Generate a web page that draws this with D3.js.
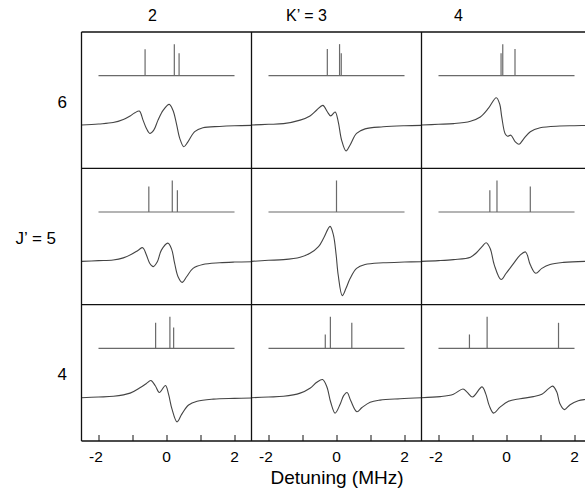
<!DOCTYPE html>
<html>
<head>
<meta charset="utf-8">
<script src="https://cdn.jsdelivr.net/npm/d3@7"></script>
<style>
  html, body { margin: 0; padding: 0; background: #fff; }
  svg { display: block; }
  text { font-family: "Liberation Sans", Arial, Helvetica, sans-serif; fill: #000; }
</style>
</head>
<body>
<svg id="chart" width="585" height="495"></svg>
<script>
// ---- data ----
const colLabels = ["2", "K’ = 3", "4"];          // K'
const rowLabels = ["6", "J’ = 5", "4"];          // J'
const xTicks = [-2, -1, 0, 1, 2];
const xTickLabels = ["-2", "", "0", "", "2"];
const xLabel = "Detuning (MHz)";

// stick spectra: [detuning MHz, relative intensity]
const sticksJ6K2 = [[-0.63, 0.84], [0.23, 1.0], [0.37, 0.71]];
const sticksJ6K3 = [[-0.27, 0.85], [0.09, 1.0], [0.14, 0.71]];
const sticksJ6K4 = [[-0.16, 0.71], [-0.11, 1.0], [0.25, 0.85]];
const sticksJ5K2 = [[-0.52, 0.81], [0.17, 1.0], [0.32, 0.69]];
const sticksJ5K3 = [[0.0, 1.0]];
const sticksJ5K4 = [[-0.49, 0.69], [-0.28, 1.0], [0.70, 0.81]];
const sticksJ4K2 = [[-0.32, 0.81], [0.10, 1.0], [0.21, 0.66]];
const sticksJ4K3 = [[-0.33, 0.44], [-0.18, 1.0], [0.45, 0.81]];
const sticksJ4K4 = [[-1.09, 0.44], [-0.57, 1.0], [1.53, 0.81]];

// measured signal traces: [detuning MHz, signal (a.u.)]
const traceJ6K2 = [[-2.5,0],[-2.0,0.03],[-1.57,0.07],[-1.27,0.16],[-1.07,0.26],[-0.93,0.35],[-0.80,0.40],[-0.69,0.14],[-0.59,-0.10],[-0.49,-0.24],[-0.37,-0.14],[-0.25,0.14],[-0.10,0.42],[0.08,0.59],[0.19,0.42],[0.29,0.05],[0.39,-0.38],[0.51,-0.62],[0.63,-0.48],[0.83,-0.19],[1.07,-0.08],[1.56,-0.04],[2.0,-0.02],[2.5,-0.01]];
const traceJ6K3 = [[-2.5,0],[-2.0,0.02],[-1.56,0.04],[-1.07,0.14],[-0.78,0.26],[-0.58,0.43],[-0.40,0.56],[-0.27,0.38],[-0.17,0.26],[-0.04,0.37],[0.05,0.10],[0.15,-0.43],[0.28,-0.74],[0.40,-0.57],[0.59,-0.24],[0.84,-0.11],[1.37,-0.05],[2.0,-0.02],[2.5,-0.01]];
const traceJ6K4 = [[-2.5,0],[-2.0,0.02],[-1.55,0.04],[-1.06,0.11],[-0.77,0.23],[-0.53,0.48],[-0.30,0.78],[-0.20,0.60],[-0.14,0.23],[-0.04,-0.25],[0.03,-0.32],[0.13,-0.29],[0.26,-0.48],[0.37,-0.55],[0.50,-0.40],[0.70,-0.19],[0.99,-0.08],[1.57,-0.03],[2.0,-0.02],[2.5,-0.01]];
const traceJ5K2 = [[-2.5,0],[-2.0,0.02],[-1.57,0.04],[-1.27,0.10],[-1.03,0.20],[-0.83,0.32],[-0.70,0.39],[-0.59,0.18],[-0.49,-0.06],[-0.39,-0.15],[-0.27,-0.01],[-0.15,0.32],[0.04,0.52],[0.15,0.35],[0.24,-0.06],[0.34,-0.44],[0.46,-0.60],[0.59,-0.44],[0.78,-0.20],[1.07,-0.09],[1.56,-0.04],[2.0,-0.02],[2.5,-0.01]];
const traceJ5K3 = [[-2.5,0],[-2.0,0.03],[-1.56,0.05],[-1.07,0.12],[-0.78,0.23],[-0.53,0.42],[-0.37,0.68],[-0.19,1.0],[-0.09,0.75],[-0.01,0.18],[0.05,-0.39],[0.17,-0.98],[0.28,-0.77],[0.40,-0.49],[0.59,-0.20],[0.84,-0.09],[1.37,-0.04],[2.0,-0.02],[2.5,-0.01]];
const traceJ5K4 = [[-2.5,0],[-2.0,0.02],[-1.56,0.05],[-1.06,0.12],[-0.87,0.26],[-0.72,0.42],[-0.60,0.53],[-0.48,0.37],[-0.36,-0.10],[-0.16,-0.52],[-0.01,-0.34],[0.21,-0.06],[0.40,0.18],[0.56,0.27],[0.70,-0.10],[0.86,-0.34],[1.04,-0.20],[1.28,-0.09],[1.68,-0.03],[2.31,0],[2.5,0]];
const traceJ4K2 = [[-2.5,0],[-2.0,0.02],[-1.56,0.04],[-1.07,0.13],[-0.77,0.29],[-0.60,0.40],[-0.46,0.49],[-0.33,0.34],[-0.21,0.15],[-0.03,0.35],[0.06,0.10],[0.16,-0.32],[0.31,-0.69],[0.45,-0.47],[0.65,-0.21],[0.90,-0.10],[1.38,-0.04],[2.0,-0.02],[2.5,-0.01]];
const traceJ4K3 = [[-2.5,0],[-2.0,0.02],[-1.56,0.04],[-1.07,0.13],[-0.78,0.27],[-0.58,0.44],[-0.41,0.52],[-0.28,0.30],[-0.17,-0.13],[-0.04,-0.44],[0.11,-0.18],[0.21,0.06],[0.31,0.15],[0.42,-0.09],[0.60,-0.40],[0.75,-0.28],[0.99,-0.13],[1.28,-0.07],[1.87,-0.03],[2.5,0]];
const traceJ4K4 = [[-2.5,0],[-1.95,0.03],[-1.56,0.10],[-1.28,0.25],[-1.16,0.16],[-1.0,0.02],[-0.72,0.31],[-0.61,0.11],[-0.51,-0.22],[-0.38,-0.44],[-0.19,-0.27],[0.06,-0.10],[0.40,-0.03],[0.79,0.03],[1.04,0.10],[1.24,0.26],[1.36,0.33],[1.48,0.16],[1.57,-0.17],[1.70,-0.34],[1.87,-0.20],[2.11,-0.09],[2.31,-0.05],[2.5,-0.03]];

// grid table built from the arrays above (row = J', col = K')
const stickGrid = [[sticksJ6K2, sticksJ6K3, sticksJ6K4],[sticksJ5K2, sticksJ5K3, sticksJ5K4],[sticksJ4K2, sticksJ4K3, sticksJ4K4]];
const traceGrid = [[traceJ6K2, traceJ6K3, traceJ6K4],[traceJ5K2, traceJ5K3, traceJ5K4],[traceJ4K2, traceJ4K3, traceJ4K4]];

// ---- layout ----
const svg = d3.select("#chart");
const plotLeft = 81.5, colW = 170, plotTop = 32, plotBottom = 441;
const colBand = d3.scaleBand().domain(d3.range(3)).range([plotLeft, plotLeft + 3 * colW]).padding(0);
const rowBand = d3.scaleBand().domain(d3.range(3)).range([plotTop, plotBottom]).padding(0);
const xDomain = [-2.5, 2.5];
const yDomain = [-1.237, 2.657];   // 0 = trace baseline
const stickBase = 1.41, stickScale = 0.9;
const colTitleDx = [-14, -30, -48];
const rowLabelX = [67, 56, 67];
const tickFont = 15.5;

const line = d3.line().curve(d3.curveCatmullRom.alpha(0.5));

for (let r = 0; r < 3; r++) {
  for (let c = 0; c < 3; c++) {
    const x = d3.scaleLinear().domain(xDomain).range([colBand(c), colBand(c) + colBand.bandwidth()]);
    const y = d3.scaleLinear().domain(yDomain).range([rowBand(r) + rowBand.bandwidth(), rowBand(r)]);
    const g = svg.append("g");
    g.append("line")
      .attr("x1", x(-2)).attr("x2", x(2))
      .attr("y1", y(stickBase)).attr("y2", y(stickBase))
      .attr("stroke", "#6a6a6a").attr("stroke-width", 1.1);
    g.selectAll("line.stick").data(stickGrid[r][c]).enter().append("line")
      .attr("class", "stick")
      .attr("x1", d => x(d[0])).attr("x2", d => x(d[0]))
      .attr("y1", y(stickBase)).attr("y2", d => y(stickBase + d[1] * stickScale))
      .attr("stroke", "#6a6a6a").attr("stroke-width", 1.2);
    g.append("path")
      .attr("d", line(traceGrid[r][c].map(d => [x(d[0]), y(d[1])])))
      .attr("fill", "none").attr("stroke", "#444").attr("stroke-width", 1.1);
  }
}

// panel frame
const frame = svg.append("g").attr("stroke", "#111").attr("stroke-width", 1.3);
[plotTop, rowBand(1), rowBand(2), plotBottom].forEach(yy => {
  frame.append("line").attr("x1", plotLeft).attr("x2", plotLeft + 3 * colW).attr("y1", yy).attr("y2", yy);
});
d3.range(4).forEach(i => {
  const xx = plotLeft + i * colW;
  frame.append("line").attr("x1", xx).attr("x2", xx).attr("y1", plotTop).attr("y2", plotBottom);
});

// bottom axes (digit centred on the tick, minus sign hanging left)
for (let c = 0; c < 3; c++) {
  const x = d3.scaleLinear().domain(xDomain).range([colBand(c), colBand(c) + colBand.bandwidth()]);
  const ax = svg.append("g").attr("transform", `translate(0,${plotBottom})`)
    .call(d3.axisBottom(x).tickValues(xTicks).tickSizeInner(-6).tickSizeOuter(0)
      .tickFormat((d, i) => xTickLabels[i]));
  ax.select(".domain").remove();
  ax.selectAll(".tick line").attr("stroke", "#111").attr("stroke-width", 1);
  ax.selectAll(".tick text").attr("y", 21).attr("dy", 0)
    .attr("text-anchor", "end").attr("x", 0.556 * tickFont / 2 - 0.5)
    .style("font-size", tickFont + "px").style("font-family", "'Liberation Sans', Arial, sans-serif").attr("fill", "#000");
}

// column titles
colLabels.forEach((t, i) => {
  svg.append("text").attr("x", colBand(i) + colW / 2 + colTitleDx[i]).attr("y", 21)
    .attr("text-anchor", "middle").style("font-size", "16px").text(t);
});
// row labels
rowLabels.forEach((t, i) => {
  svg.append("text").attr("x", rowLabelX[i]).attr("y", rowBand(i) + rowBand.bandwidth() / 2 + 7.5)
    .attr("text-anchor", "end").style("font-size", "17px").text(t);
});
// x label
svg.append("text").attr("x", 337).attr("y", 484).attr("text-anchor", "middle")
  .style("font-size", "19px").text(xLabel);
</script>
</body>
</html>
